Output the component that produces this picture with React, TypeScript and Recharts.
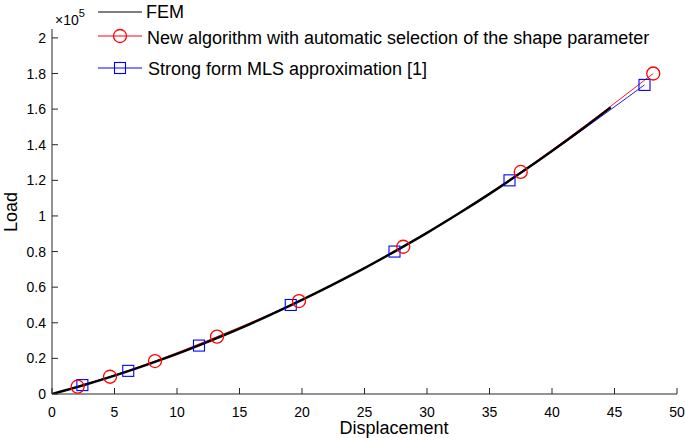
import React from "react";
import { ComposedChart, Line, XAxis, YAxis } from "recharts";

// FEM reference curve (Load in units of 1e5)
const femX = [0, 2.5, 5, 7.5, 10, 12.5, 15, 17.5, 20, 22.5, 25, 27.5, 30, 32.5, 35, 37.5, 40, 42.5, 44.7];
const femY = [0.0, 0.049, 0.103, 0.162, 0.225, 0.294, 0.367, 0.446, 0.529, 0.616, 0.707, 0.804, 0.905, 1.012, 1.124, 1.242, 1.365, 1.493, 1.61];

// New algorithm (red circles)
const newX = [2.05, 4.64, 8.24, 13.2, 19.76, 28.1, 37.5, 48.1];
const newY = [0.041, 0.097, 0.185, 0.322, 0.522, 0.827, 1.247, 1.8];

// Strong form MLS (blue squares)
const mlsX = [2.43, 6.1, 11.76, 19.1, 27.4, 36.6, 47.4];
const mlsY = [0.05, 0.13, 0.272, 0.5, 0.8, 1.2, 1.736];

const xTicks = [0, 5, 10, 15, 20, 25, 30, 35, 40, 45, 50];
const yTicks = [0, 0.2, 0.4, 0.6, 0.8, 1, 1.2, 1.4, 1.6, 1.8, 2];

const femData = femX.map((x, i) => ({ x, y: femY[i] }));
const newData = newX.map((x, i) => ({ x, y: newY[i] }));
const mlsData = mlsX.map((x, i) => ({ x, y: mlsY[i] }));

const FONT = "'Liberation Sans', Arial, Helvetica, sans-serif";
const AX = "#262626";

const XTick = (props: any) => {
  const { x, y, payload } = props;
  return (
    <g>
      <line x1={x} y1={y} x2={x} y2={y - 6} stroke={AX} strokeWidth={1} />
      <text x={x} y={y + 23} textAnchor="middle" fontSize={14} fontFamily={FONT} fill="#000">
        {payload.value}
      </text>
    </g>
  );
};

const YTick = (props: any) => {
  const { x, y, payload } = props;
  const v = payload.value;
  const label = Number.isInteger(v) ? String(v) : String(Math.round(v * 10) / 10);
  return (
    <g>
      <line x1={x} y1={y} x2={x + 6} y2={y} stroke={AX} strokeWidth={1} />
      <text x={x - 6} y={y + 5} textAnchor="end" fontSize={14} fontFamily={FONT} fill="#000">
        {label}
      </text>
    </g>
  );
};

const CircleDot = (props: any) => {
  const { cx, cy, index } = props;
  if (cx == null || cy == null) return <g key={index} />;
  return <circle key={index} cx={cx} cy={cy} r={6.5} fill="none" stroke="#ff0000" strokeWidth={1.3} />;
};

const SquareDot = (props: any) => {
  const { cx, cy, index } = props;
  if (cx == null || cy == null) return <g key={index} />;
  return <rect key={index} x={cx - 5.5} y={cy - 5.5} width={11} height={11} fill="none" stroke="#0000ff" strokeWidth={1.1} />;
};

export default function App() {
  return (
    <div style={{ position: "absolute", left: 0, top: 0, width: 685, height: 438, background: "#fff" }}>
      <ComposedChart width={685} height={438} margin={{ top: 29, right: 8, bottom: 14, left: 0 }}>
        <XAxis
          dataKey="x"
          type="number"
          domain={[0, 50]}
          ticks={xTicks}
          allowDataOverflow
          tickLine={false}
          tickSize={0}
          tickMargin={0}
          tick={<XTick />}
          axisLine={{ stroke: AX }}
          height={30}
          interval={0}
        />
        <YAxis
          dataKey="y"
          type="number"
          domain={[0, 2.05]}
          ticks={yTicks}
          allowDataOverflow
          tickLine={false}
          tickSize={0}
          tickMargin={0}
          tick={<YTick />}
          axisLine={{ stroke: AX }}
          width={52}
          interval={0}
        />
        <Line data={mlsData} dataKey="y" type="monotone" stroke="#0000ff" strokeWidth={0.9} dot={<SquareDot />} isAnimationActive={false} />
        <Line data={newData} dataKey="y" type="monotone" stroke="#ff0000" strokeWidth={0.9} dot={<CircleDot />} isAnimationActive={false} />
        <Line data={femData} dataKey="y" type="monotone" stroke="#000" strokeWidth={2.4} dot={false} isAnimationActive={false} />
      </ComposedChart>
      <svg width={685} height={438} style={{ position: "absolute", left: 0, top: 0, pointerEvents: "none" }}>
        <text x={55} y={25} fontSize={14} fontFamily={FONT} fill="#000">
          ×10
          <tspan dy={-8} fontSize={11}>5</tspan>
        </text>
        <line x1={98} y1={12} x2={142} y2={12} stroke="#000" strokeWidth={1} />
        <text x={146} y={18} fontSize={18} fontFamily={FONT} fill="#000">FEM</text>
        <line x1={98} y1={36} x2={142} y2={36} stroke="#ff0000" strokeWidth={1} />
        <circle cx={120} cy={36} r={6.5} fill="none" stroke="#ff0000" strokeWidth={1.3} />
        <text x={147} y={44} fontSize={18} fontFamily={FONT} fill="#000">New algorithm with automatic selection of the shape parameter</text>
        <line x1={98} y1={68} x2={142} y2={68} stroke="#0000ff" strokeWidth={1} />
        <rect x={114.5} y={62.5} width={11} height={11} fill="none" stroke="#0000ff" strokeWidth={1.1} />
        <text x={148} y={74.5} fontSize={18} fontFamily={FONT} fill="#000">Strong form MLS approximation [1]</text>
        <text x={17} y={212} fontSize={18} fontFamily={FONT} fill="#000" textAnchor="middle" transform="rotate(-90 17 212)">Load</text>
        <text x={394} y={434} fontSize={18} fontFamily={FONT} fill="#000" textAnchor="middle">Displacement</text>
      </svg>
    </div>
  );
}
